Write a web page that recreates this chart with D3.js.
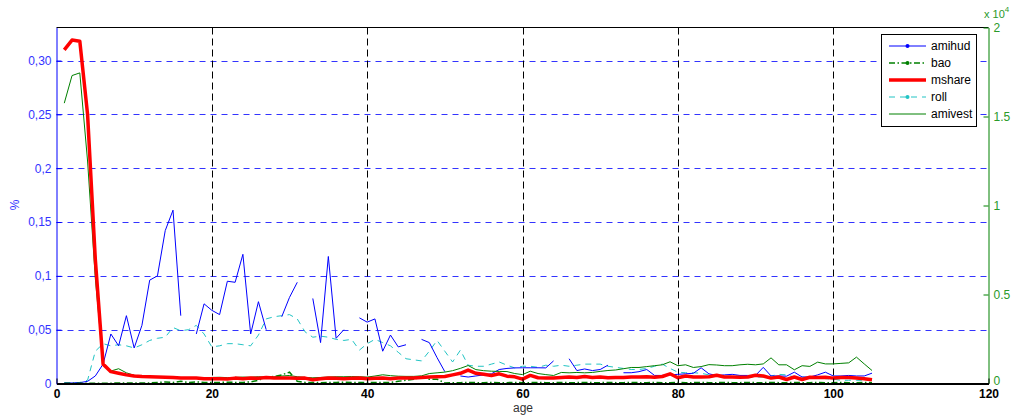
<!DOCTYPE html>
<html>
<head>
<meta charset="utf-8">
<script src="https://cdn.jsdelivr.net/npm/d3@7"></script>
<style>
body{margin:0;background:#fff;}
svg{display:block;font-family:"Liberation Sans",Arial,sans-serif;}
</style>
</head>
<body>
<svg width="1017" height="417"></svg>
<script>
// ages 1..105
var ages = d3.range(1, 106);

var amihud = [0.0005,0.0005,0.0008,0.002,0.007,0.018,0.046,0.035,0.063,0.033,
  0.054,0.096,0.100,0.142,0.161,0.063,null,0.046,0.074,0.068,
  0.064,0.095,0.094,0.120,0.046,0.076,0.050,null,0.062,0.080,
  0.094,null,0.079,0.038,0.118,0.042,0.050,null,0.061,0.057,
  0.060,0.030,0.045,0.034,0.036,null,0.041,0.038,0.024,0.011,
  null,0.007,0.006,0.007,0.008,0.009,0.013,0.014,0.0145,0.0146,
  0.0146,0.0146,0.0145,0.021,null,0.023,0.012,0.0135,0.012,0.013,
  0.017,null,0.010,0.010,0.011,0.013,0.0075,0.0075,0.008,0.0085,
  0.009,0.0095,0.0146,0.009,0.0074,0.008,0.0085,0.0075,0.0075,0.0075,
  0.015,0.007,0.007,0.0068,0.0105,0.006,0.006,0.008,0.0105,0.007,
  0.007,0.0075,0.007,0.007,0.0096];

var bao = [0.0003,0.0003,0.0003,0.0003,0.0003,0.0003,0.0003,0.0005,0.0005,0.0005,
  0.0005,0.0005,0.001,0.0015,0.001,0.002,0.001,0.0015,0.001,0.001,
  0.001,0.0012,0.001,0.001,0.0015,0.003,0.006,0.0065,0.008,0.0105,
  0.002,0.001,0.001,0.0008,0.001,0.001,0.0012,0.001,0.001,0.001,
  0.001,0.001,0.001,0.002,0.003,0.004,0.006,0.004,0.004,0.0005,
  0.0008,0.0008,0.001,0.0008,0.0008,0.001,0.0008,0.0008,0.001,0.0008,
  0.0008,0.001,0.0008,0.0008,0.001,0.0008,0.0008,0.001,0.0008,0.0008,
  0.001,0.0008,0.0008,0.001,0.0008,0.0008,0.001,0.0008,0.0008,0.001,
  0.0008,0.0008,0.001,0.0008,0.0008,0.001,0.0008,0.0008,0.001,0.0008,
  0.0008,0.001,0.0008,0.0008,0.001,0.0008,0.0008,0.001,0.0008,0.0008,
  0.001,0.0008,0.0008,0.001,0.0008];

var mshare = [0.310,0.319,0.318,0.250,0.115,0.018,0.011,0.0095,0.008,0.007,
  0.0065,0.0062,0.006,0.0058,0.0055,0.005,0.0052,0.005,0.0045,0.0045,
  0.0045,0.0042,0.005,0.0045,0.005,0.0048,0.0055,0.005,0.005,0.0052,
  0.0048,0.005,0.0035,0.0045,0.005,0.0048,0.0045,0.0048,0.005,0.0045,
  0.0048,0.005,0.0045,0.005,0.005,0.005,0.0055,0.006,0.0062,0.0065,
  0.008,0.0095,0.0125,0.0095,0.0085,0.0075,0.009,0.0068,0.0062,0.004,
  0.0075,0.0053,0.005,0.005,0.0055,0.006,0.0055,0.0065,0.0055,0.006,
  0.0053,0.0055,0.0055,0.006,0.006,0.0062,0.0058,0.0065,0.009,0.0053,
  0.007,0.006,0.006,0.0062,0.0077,0.006,0.006,0.0058,0.006,0.0077,
  0.007,0.005,0.006,0.0037,0.006,0.0037,0.0058,0.0055,0.0058,0.005,
  0.0055,0.0055,0.005,0.0045,0.0035];

var roll = [0.0005,0.0005,0.001,0.003,0.030,0.037,0.035,0.036,0.035,0.033,
  0.036,0.040,0.042,0.043,0.052,0.049,0.050,0.054,0.046,0.034,
  0.035,0.037,0.037,0.036,0.035,0.045,0.060,0.062,0.063,0.064,
  0.060,0.048,0.043,0.044,0.043,0.041,0.040,0.041,0.031,0.037,
  0.041,0.038,0.035,0.029,0.023,0.022,0.021,0.030,0.040,0.030,
  0.020,0.031,0.017,0.016,0.016,0.018,0.020,0.017,0.0145,0.016,
  0.016,0.015,0.017,0.016,0.017,0.016,0.017,0.018,0.018,0.018,
  0.016,0.015,0.014,0.013,0.013,0.014,0.016,0.018,0.014,0.0105,
  0.010,0.010,0.0095,0.008,0.0065,0.0065,0.007,0.007,0.0065,0.006,
  0.006,0.007,0.0085,0.008,0.006,0.006,0.0055,0.006,0.0045,0.004,
  0.003,0.003,0.003,0.003,0.003];

// right axis (x 10^4)
var amivest = [15750,17300,17450,12500,5900,1100,700,830,600,460,
  420,400,390,350,340,330,310,300,320,340,
  350,330,340,360,350,380,350,370,420,450,
  380,340,320,340,360,380,380,390,380,360,
  420,490,440,410,400,400,430,560,600,640,
  720,850,1010,780,720,690,680,670,560,500,
  690,560,500,450,620,600,620,600,620,680,
  730,760,830,900,900,950,1000,1050,1220,1000,
  1050,900,950,1060,1040,1000,1000,1050,1080,1050,
  1100,1440,1050,1050,770,1000,960,1200,1100,1100,
  1130,1160,1480,1100,730];

var xTicks = [0,20,40,60,80,100,120];
var xGrid = [20,40,60,80,100];
var leftTicks = [0,0.05,0.1,0.15,0.2,0.25,0.3];
var leftLabels = ["0","0,05","0,1","0,15","0,2","0,25","0,30"];
var rightTicks = [0,5000,10000,15000,20000];
var rightLabels = ["0","0.5","1","1.5","2"];

var seriesNames = ["amihud","bao","mshare","roll","amivest"];

var plotL = 56.5, plotR = 988.5, plotT = 27.5, plotB = 383.5;

var x = d3.scaleLinear().domain([0,120]).range([plotL,plotR]);
var yL = d3.scaleLinear().domain([0,0.3307]).range([plotB,plotT]);
var yR = d3.scaleLinear().domain([0,20000]).range([plotB,plotT]);

var svg = d3.select('svg');

// horizontal grid (blue dashed)
svg.append('g').selectAll('line')
  .data(leftTicks.slice(1))
  .enter().append('line')
  .attr('x1', plotL).attr('x2', plotR)
  .attr('y1', function(d){ return Math.round(yL(d))+0.5; })
  .attr('y2', function(d){ return Math.round(yL(d))+0.5; })
  .attr('stroke', '#3333ff').attr('stroke-width', 1)
  .attr('stroke-dasharray', '6,5');

// vertical grid (black dashed)
svg.append('g').selectAll('line')
  .data(xGrid)
  .enter().append('line')
  .attr('x1', function(d){ return Math.round(x(d))+0.5; })
  .attr('x2', function(d){ return Math.round(x(d))+0.5; })
  .attr('y1', plotT).attr('y2', plotB)
  .attr('stroke', '#000').attr('stroke-width', 1)
  .attr('stroke-dasharray', '7,4');

// top border
svg.append('line')
  .attr('x1', plotL).attr('x2', plotR).attr('y1', plotT).attr('y2', plotT)
  .attr('stroke', '#000');

var lineL = d3.line()
  .defined(function(d){ return d != null; })
  .x(function(d,i){ return x(ages[i]); })
  .y(function(d){ return yL(d); });
var lineR = d3.line()
  .defined(function(d){ return d != null; })
  .x(function(d,i){ return x(ages[i]); })
  .y(function(d){ return yR(d); });

svg.append('path').attr('d', lineL(roll))
  .attr('fill','none').attr('stroke','#22c4c4').attr('stroke-width',1)
  .attr('stroke-dasharray','6,5');

svg.append('path').attr('d', lineL(amihud))
  .attr('fill','none').attr('stroke','#0000ff').attr('stroke-width',1);

svg.append('path').attr('d', lineL(bao))
  .attr('fill','none').attr('stroke','#008000').attr('stroke-width',1.5)
  .attr('stroke-dasharray','6,2.5,1.5,2.5');

svg.append('path').attr('d', lineR(amivest))
  .attr('fill','none').attr('stroke','#008000').attr('stroke-width',1);

svg.append('path').attr('d', lineL(mshare))
  .attr('fill','none').attr('stroke','#ff0000').attr('stroke-width',3.5)
  .attr('stroke-linejoin','round');

// left axis
var yaxisL = d3.axisLeft(yL).tickValues(leftTicks)
  .tickFormat(function(d,i){ return leftLabels[i]; })
  .tickSizeInner(-5).tickSizeOuter(0).tickPadding(5);
var gL = svg.append('g')
  .attr('transform','translate('+plotL+',0)')
  .call(yaxisL);
gL.select('.domain').attr('stroke','#0000ff');
gL.selectAll('.tick line').attr('stroke','#0000ff');
gL.selectAll('.tick text').attr('fill','#3333ff')
  .style('font-size','12px').style('font-family','"Liberation Sans",Arial,sans-serif');

// right axis
var yaxisR = d3.axisRight(yR).tickValues(rightTicks)
  .tickFormat(function(d,i){ return rightLabels[i]; })
  .tickSizeInner(-5).tickSizeOuter(0).tickPadding(5);
var gR = svg.append('g')
  .attr('transform','translate('+plotR+',0)')
  .call(yaxisR);
gR.select('.domain').attr('stroke','#008000');
gR.selectAll('.tick line').attr('stroke','#008000');
gR.selectAll('.tick text').attr('fill','#2a9a2a')
  .style('font-size','12px').style('font-family','"Liberation Sans",Arial,sans-serif');
gR.selectAll('.tick text').filter(function(d){ return d === 0; }).attr('dy','0.05em');

// bottom axis
var xaxis = d3.axisBottom(x).tickValues(xTicks)
  .tickSizeInner(-5).tickSizeOuter(0).tickPadding(6);
var gX = svg.append('g')
  .attr('transform','translate(0,'+plotB+')')
  .call(xaxis);
gX.select('.domain').attr('stroke','#000').attr('stroke-width',2);
gX.selectAll('.tick text').attr('fill','#000')
  .style('font-size','12px').style('font-weight','bold')
  .style('font-family','"Liberation Sans",Arial,sans-serif');

// axis labels
svg.append('text').attr('x', 523).attr('y', 412)
  .attr('text-anchor','middle').attr('fill','#333')
  .style('font-size','12px').text('age');
svg.append('text')
  .attr('transform','translate(19,205) rotate(-90)')
  .attr('text-anchor','middle').attr('fill','#3333ff')
  .style('font-size','12px').text('%');

// x 10^4
var ex = svg.append('text').attr('x', 984).attr('y', 18)
  .attr('fill','#2a9a2a').style('font-size','11px');
ex.append('tspan').text('x 10');
ex.append('tspan').attr('dy',-6).style('font-size','8px').text('4');

// legend
var lg = svg.append('g');
lg.append('rect').attr('x',881.5).attr('y',34.5).attr('width',95).attr('height',92)
  .attr('fill','#fff').attr('stroke','#000');
var legStyles = [
  {c:'#0000ff', w:1, dash:null, dot:true},
  {c:'#008000', w:1.5, dash:'6,2.5,1.5,2.5', dot:true},
  {c:'#ff0000', w:3.5, dash:null, dot:false},
  {c:'#22c4c4', w:1, dash:'6,5', dot:true},
  {c:'#008000', w:1, dash:null, dot:false}
];
seriesNames.forEach(function(name,i){
  var yy = 46 + i*17;
  var s = legStyles[i];
  var ln = lg.append('line').attr('x1',889).attr('x2',926)
    .attr('y1',yy).attr('y2',yy).attr('stroke',s.c).attr('stroke-width',s.w);
  if (s.dash) ln.attr('stroke-dasharray', s.dash);
  if (s.dot) lg.append('circle').attr('cx',907.5).attr('cy',yy).attr('r',2).attr('fill',s.c);
  lg.append('text').attr('x',931).attr('y',yy+4).attr('fill','#000')
    .style('font-size','12px').text(name);
});
</script>
</body>
</html>
